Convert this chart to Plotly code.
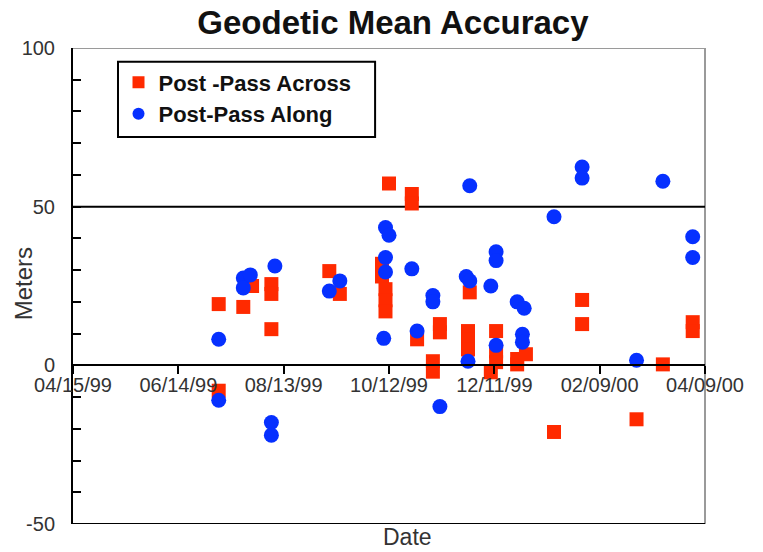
import plotly.graph_objects as go

# Post-pass cross-track error (meters) by acquisition date
across_dates = [
    "1999-07-07", "1999-07-07", "1999-07-21", "1999-07-26", "1999-08-06", "1999-08-06",
    "1999-08-06", "1999-09-08", "1999-09-14", "1999-10-08", "1999-10-08", "1999-10-12",
    "1999-10-10", "1999-10-10", "1999-10-10", "1999-10-25", "1999-10-25", "1999-10-28",
    "1999-11-06", "1999-11-06", "1999-11-10", "1999-11-10", "1999-11-27", "1999-11-26",
    "1999-11-26", "1999-11-26", "1999-12-09", "1999-12-12", "1999-12-12", "1999-12-12",
    "1999-12-24", "1999-12-24", "1999-12-29", "2000-01-14", "2000-01-30", "2000-01-30",
    "2000-03-01", "2000-03-16", "2000-04-02", "2000-04-02",
]
across_values = [
    19.3, -8.0, 18.4, 25.0, 25.6, 22.5,
    11.4, 29.7, 22.5, 32.0, 28.0, 57.3,
    24.0, 20.5, 17.0, 54.0, 51.0, 8.2,
    1.3, -2.0, 13.0, 10.4, 23.0, 10.8,
    8.2, 5.0, -2.2, 10.8, 4.4, 1.0,
    0.3, 2.0, 3.5, -21.0, 20.6, 13.0,
    -17.0, 0.3, 13.6, 10.8,
]

# Post-pass along-track error (meters) by acquisition date
along_dates = [
    "1999-07-07", "1999-07-07", "1999-07-21", "1999-07-21", "1999-07-25", "1999-08-08",
    "1999-08-06", "1999-08-06", "1999-09-08", "1999-09-14", "1999-10-10", "1999-10-12",
    "1999-10-10", "1999-10-10", "1999-10-09", "1999-10-25", "1999-10-28", "1999-11-06",
    "1999-11-06", "1999-11-10", "1999-11-27", "1999-11-25", "1999-11-27", "1999-11-26",
    "1999-12-09", "1999-12-12", "1999-12-12", "1999-12-12", "1999-12-24", "1999-12-28",
    "1999-12-27", "1999-12-27", "2000-01-14", "2000-01-30", "2000-01-30", "2000-03-01",
    "2000-03-16", "2000-04-02", "2000-04-02",
]
along_values = [
    8.2, -11.0, 27.5, 24.4, 28.5, 31.3,
    -18.0, -22.0, 23.4, 26.6, 43.4, 41.0,
    34.0, 29.4, 8.5, 30.4, 10.8, 22.0,
    20.0, -13.0, 56.6, 28.0, 26.6, 1.3,
    25.0, 35.8, 33.0, 6.3, 20.0, 18.0,
    9.8, 7.3, 46.8, 62.5, 59.0, 1.6,
    58.0, 40.5, 34.0,
]

tick_dates = ["1999-04-15", "1999-06-14", "1999-08-13", "1999-10-12",
              "1999-12-11", "2000-02-09", "2000-04-09"]
tick_labels = ["04/15/99", "06/14/99", "08/13/99", "10/12/99",
               "12/11/99", "02/09/00", "04/09/00"]
y_ticks = [-50, 0, 50, 100]
y_tick_labels = ["-50", "0", "50", "100"]

RED = "#ff2a00"
BLUE = "#0630ff"
FONT = "Liberation Sans, Arial, Helvetica, sans-serif"

fig = go.Figure()
fig.add_trace(go.Scatter(
    x=across_dates, y=across_values, mode="markers", name="Post -Pass Across",
    marker=dict(symbol="square", size=14, color=RED, line=dict(width=0)),
))
fig.add_trace(go.Scatter(
    x=along_dates, y=along_values, mode="markers", name="Post-Pass Along",
    marker=dict(symbol="circle", size=15, color=BLUE, line=dict(width=0)),
))

# frame: grey top/right edges, black bottom edge, black reference line at 50
frame = [
    dict(x0=0, x1=1, y0=100, y1=100, color="#9a9a9a"),
    dict(x0=1, x1=1, y0=-50, y1=100, color="#9a9a9a"),
    dict(x0=0, x1=1, y0=-50, y1=-50, color="black"),
    dict(x0=0, x1=1, y0=50, y1=50, color="black"),
]
for f in frame:
    fig.add_shape(type="line", xref="paper", yref="y",
                  x0=f["x0"], x1=f["x1"], y0=f["y0"], y1=f["y1"],
                  line=dict(color=f["color"], width=2), layer="below")

# boxed legend panel
fig.add_shape(type="rect", xref="paper", yref="paper",
              x0=0.0712, x1=0.478, y0=0.813, y1=0.971,
              line=dict(color="black", width=2), fillcolor="white", layer="above")

fig.update_layout(
    width=763, height=552,
    margin=dict(l=73, r=58, t=48, b=28),
    paper_bgcolor="white", plot_bgcolor="white",
    font=dict(family=FONT, color="#333333"),
    title=dict(text="<b>Geodetic Mean Accuracy</b>", x=0.515, xanchor="center",
               y=0.96, yanchor="middle",
               font=dict(family=FONT, size=33, color="#111111")),
    showlegend=True,
    legend=dict(x=0.072, y=0.972, xanchor="left", yanchor="top",
                bgcolor="rgba(0,0,0,0)", borderwidth=0,
                font=dict(family=FONT, size=22, color="#111111", weight="bold"),
                itemsizing="constant", tracegroupgap=0),
    xaxis=dict(
        type="date", range=["1999-04-15", "2000-04-09"],
        tickmode="array", tickvals=tick_dates, ticktext=tick_labels,
        anchor="free", position=1 / 3,
        showline=True, linecolor="black", linewidth=2,
        ticks="outside", ticklen=8, tickwidth=2, tickcolor="black",
        showgrid=False, zeroline=False,
        ticklabelstandoff=-6,
        tickfont=dict(family=FONT, size=20, color="#333333"),
    ),
    yaxis=dict(
        range=[-50, 100], tickmode="array", tickvals=y_ticks, ticktext=y_tick_labels,
        showline=True, linecolor="black", linewidth=2,
        ticks="inside", ticklen=8, tickwidth=2, tickcolor="black",
        minor=dict(dtick=10, ticks="inside", ticklen=8, tickwidth=2, tickcolor="black"),
        showgrid=False, zeroline=False,
        ticklabelstandoff=12,
        tickfont=dict(family=FONT, size=20, color="#333333"),
    ),
    annotations=[
        dict(text="Meters", textangle=-90, xref="paper", yref="paper",
             x=-0.078, y=0.505, xanchor="center", yanchor="middle", showarrow=False,
             font=dict(family=FONT, size=24, color="#333333")),
        dict(text="Date", xref="paper", yref="paper",
             x=0.529, y=-0.028, xanchor="center", yanchor="middle", showarrow=False,
             font=dict(family=FONT, size=23, color="#333333")),
    ],
)

fig.write_html("out.html")
